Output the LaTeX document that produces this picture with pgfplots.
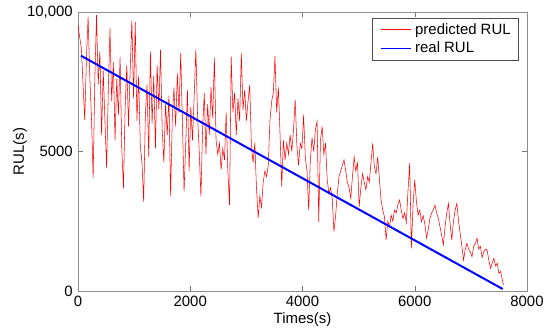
\documentclass[border=0pt]{standalone}
\usepackage{fontspec}
\setmainfont{Liberation Sans}
\usepackage{pgfplots}
\pgfplotsset{compat=1.18}
\begin{document}
\fontsize{11.2}{13.4}\selectfont
\begin{tikzpicture}
\path[use as bounding box] (-58.5pt,-31.5pt) rectangle (354pt,218.25pt);
\begin{axis}[
  at={(0,0)}, anchor=south west,
  scale only axis, width=336.75pt, height=209.25pt,
  xmin=0, xmax=8000, ymin=0, ymax=10000,
  xtick={0,2000,4000,6000,8000},
  ytick={0,5000,10000},
  yticklabels={0,5000,{10,000}},
  scaled y ticks=false, scaled x ticks=false,
  /pgf/number format/assume math mode=true,
  /pgf/number format/1000 sep={},
  axis line style={black!45},
  tick style={black!55},
  major tick length=4pt,
  tick align=inside,
  xlabel={Times(s)}, ylabel={RUL(s)},
  xlabel style={at={(axis description cs:0.5,-0.104)}, anchor=center},
  ylabel style={at={(axis description cs:-0.129,0.5)}, anchor=center},
  tick label style={font=\fontsize{11.2}{13.4}\selectfont},
  label style={font=\fontsize{11.2}{13.4}\selectfont},
  legend style={at={(0.982,0.978)}, anchor=north east, draw=black!70,
    font=\fontsize{11.2}{13.4}\selectfont, inner xsep=4pt, inner ysep=2pt},
  legend cell align=left,
  legend image code/.code={},
]
\addplot[color=red, draw=red, line width=0.4pt, no marks] coordinates {
(0,9530)(30,9100)(60,8700)(90,7400)(120,6130)(150,8300)(180,9830)(210,7700)(240,6200)(270,4040)(300,7600)(330,9890)(360,7400)(390,8600)(420,5600)(450,7900)(480,6100)(510,4400)(540,7200)(570,9410)(600,6800)(630,8200)(660,5400)(690,7600)(720,6300)(750,8400)(780,5100)(810,3680)(840,6600)(870,8100)(900,5900)(930,7900)(960,9710)(990,6900)(1020,9650)(1050,6100)(1080,7700)(1110,5200)(1140,4600)(1170,3200)(1200,6300)(1230,7400)(1260,4810)(1290,8580)(1320,6000)(1350,7700)(1380,5100)(1410,8100)(1440,6500)(1470,8640)(1500,5800)(1530,4600)(1560,6700)(1590,5600)(1620,7000)(1650,3400)(1680,6200)(1710,7300)(1740,5900)(1770,7800)(1800,6400)(1830,8530)(1860,6100)(1890,3560)(1920,5300)(1950,7200)(1980,4300)(2010,6600)(2040,5400)(2070,7000)(2100,8660)(2130,6300)(2160,5000)(2190,3380)(2220,5800)(2250,7100)(2280,4900)(2310,6700)(2340,5600)(2370,7300)(2400,6200)(2430,8350)(2460,5400)(2490,4900)(2520,5300)(2550,4340)(2580,5100)(2610,4700)(2640,6400)(2670,4300)(2700,3080)(2730,8400)(2760,6400)(2790,7100)(2820,5600)(2850,6900)(2880,6100)(2910,8520)(2940,6500)(2970,7200)(3000,6100)(3030,6800)(3060,7380)(3090,5200)(3120,4600)(3150,5300)(3180,3700)(3210,2620)(3240,3400)(3270,3000)(3300,3900)(3330,4300)(3360,4100)(3390,4500)(3420,6100)(3450,6800)(3480,7100)(3510,8420)(3540,6400)(3570,7300)(3600,5600)(3630,3740)(3660,5400)(3690,4700)(3720,5300)(3750,4900)(3780,5600)(3810,5000)(3840,5800)(3870,6845)(3900,5200)(3930,4500)(3960,5300)(3990,5100)(4020,6310)(4050,4800)(4080,4300)(4110,2900)(4140,4700)(4170,5500)(4200,5000)(4230,5800)(4260,6070)(4290,2480)(4320,5400)(4350,5900)(4380,4900)(4410,5300)(4440,4000)(4470,3500)(4500,3700)(4530,3300)(4560,2125)(4590,2700)(4620,3500)(4650,4100)(4680,4300)(4710,4500)(4740,4700)(4770,4300)(4800,3900)(4830,3700)(4860,3320)(4890,4100)(4920,4810)(4950,4300)(4980,4590)(5010,3020)(5040,3700)(5070,4200)(5100,3900)(5130,3620)(5160,4100)(5190,3900)(5220,4600)(5250,5290)(5280,4460)(5310,4200)(5340,4810)(5370,4000)(5400,3260)(5430,2900)(5460,2660)(5490,1830)(5520,2500)(5550,2300)(5580,2720)(5610,2500)(5640,2900)(5670,2800)(5700,3100)(5730,3260)(5760,2900)(5790,2600)(5820,2800)(5850,2450)(5880,3600)(5910,4580)(5940,1530)(5970,3100)(6000,3980)(6030,3200)(6060,2720)(6090,2900)(6120,2480)(6150,2700)(6180,2400)(6210,1900)(6240,2200)(6270,2600)(6300,2800)(6330,2900)(6360,3080)(6390,2800)(6420,2600)(6450,2300)(6480,2000)(6510,1650)(6540,2300)(6570,2800)(6600,3140)(6630,2400)(6660,1830)(6690,2500)(6720,2900)(6750,3140)(6780,2500)(6810,2070)(6840,1600)(6870,1110)(6900,1500)(6930,1710)(6960,1500)(6990,1400)(7020,1230)(7050,1600)(7080,1700)(7110,1890)(7140,1500)(7170,1600)(7200,1200)(7230,1400)(7260,1500)(7290,1470)(7320,1100)(7350,810)(7380,1000)(7410,1170)(7440,900)(7470,1000)(7500,630)(7530,700)(7560,400)(7580,215)
};
\addlegendentry{\textcolor{red}{\rule[0.3em]{23pt}{0.5pt}}\hspace{3pt}predicted RUL}
\addplot[color=blue, draw=blue, line width=1.5pt, no marks] coordinates {(53,8433) (7567,72)};
\addlegendentry{\textcolor{blue}{\rule[0.3em]{23pt}{0.5pt}}\hspace{3pt}real RUL}
\end{axis}
\end{tikzpicture}
\end{document}
